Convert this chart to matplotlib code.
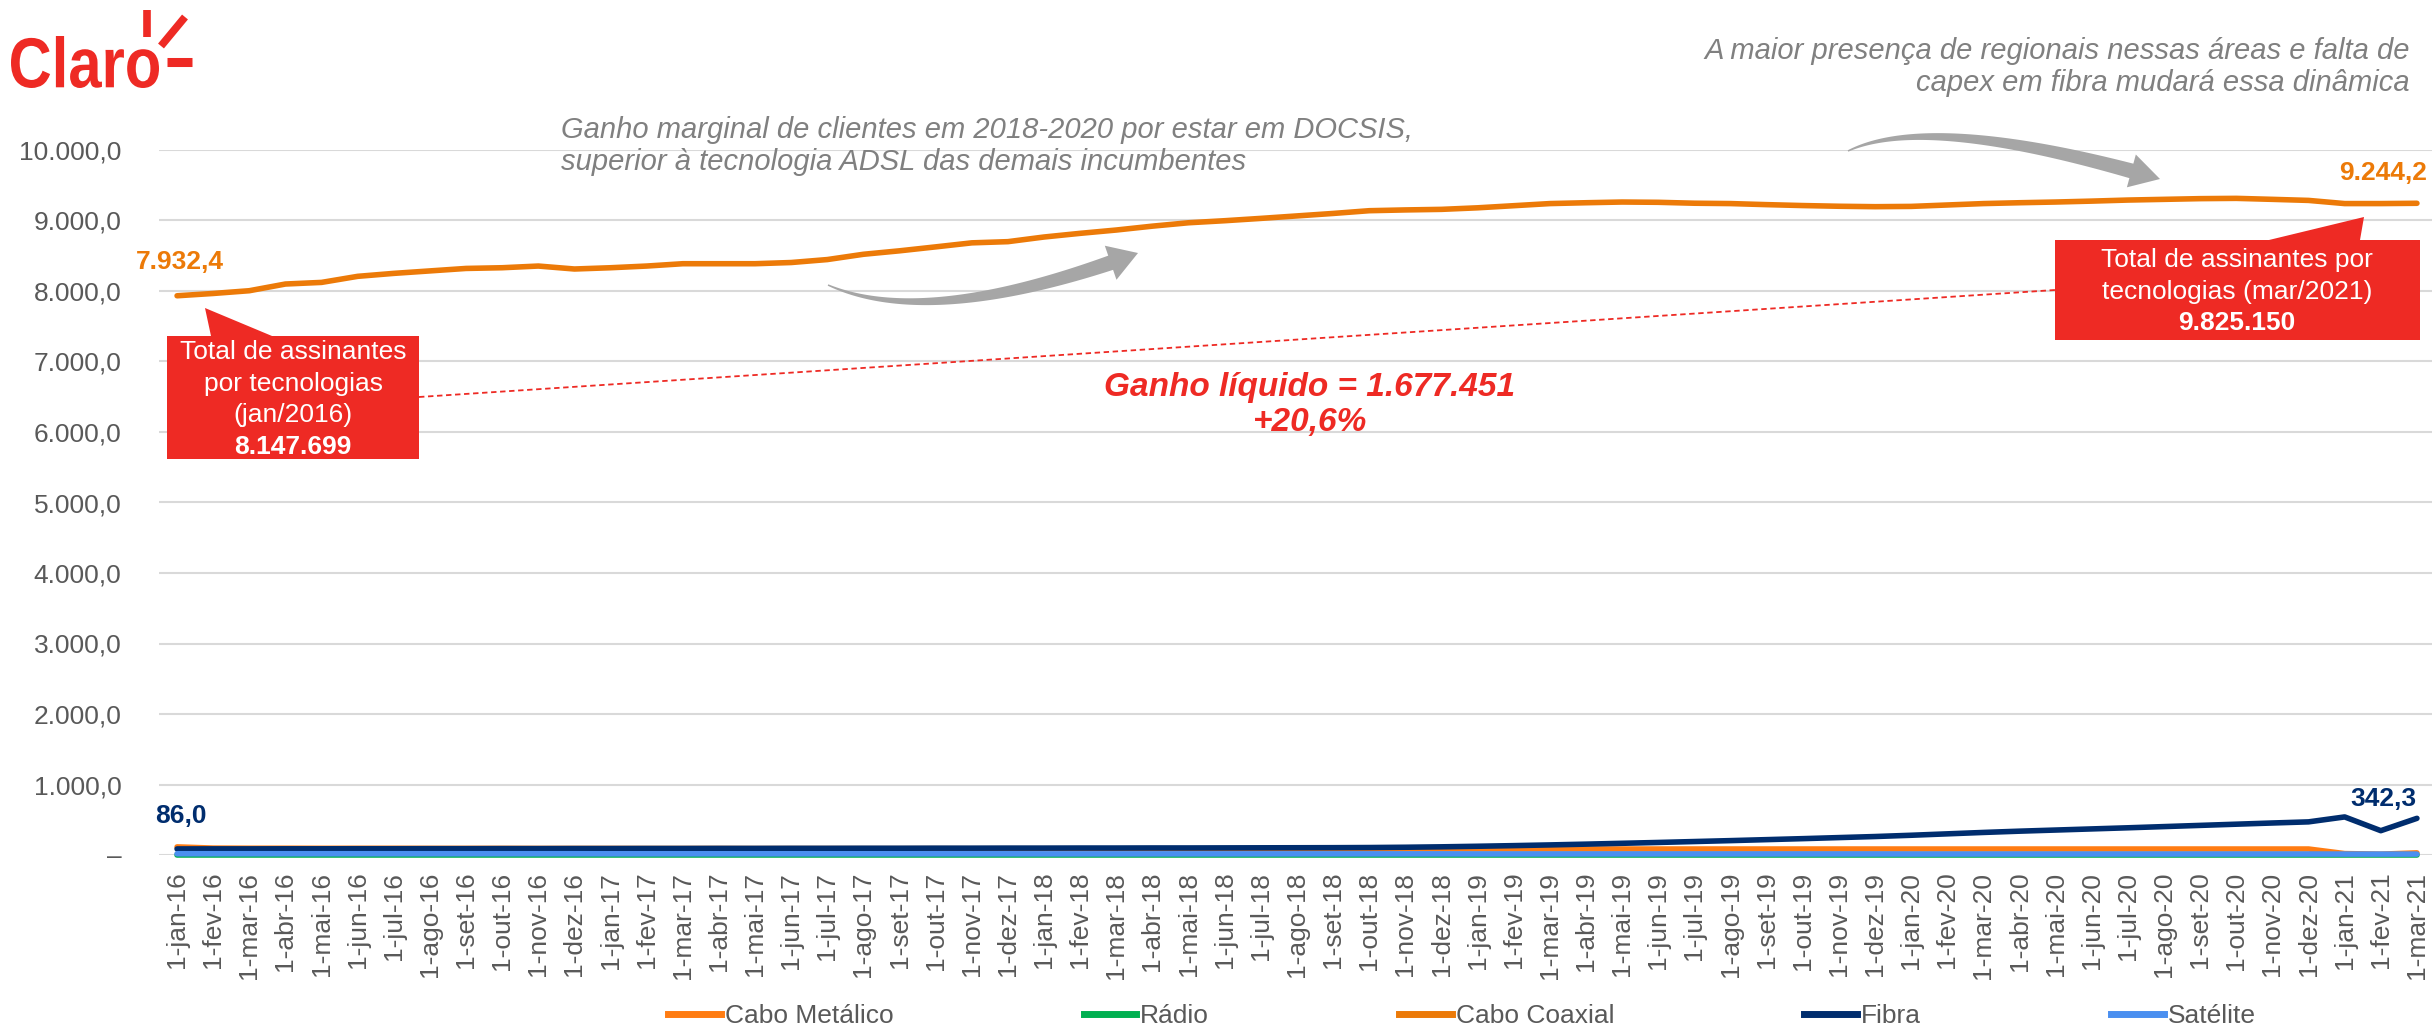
import numpy as np
import matplotlib
matplotlib.use('Agg')
import matplotlib.pyplot as plt
from matplotlib.patches import Polygon, PathPatch
from matplotlib.lines import Line2D
from matplotlib.textpath import TextPath
from matplotlib.font_manager import FontProperties
from matplotlib.transforms import Affine2D
from matplotlib.ticker import FuncFormatter

plt.rcParams['font.family'] = ['Liberation Sans', 'DejaVu Sans']

W, H = 2432, 1031

# --- dados (milhares de assinantes) ---
meses = ['jan', 'fev', 'mar', 'abr', 'mai', 'jun', 'jul', 'ago', 'set', 'out', 'nov', 'dez']
anos = ['16', '17', '18', '19', '20', '21']
datas = [f'1-{m}-{a}' for a in anos for m in meses][:63]

cabo_metalico = [115, 98, 96, 96, 95, 95, 95, 94, 94, 94, 93, 93,
                 93, 92, 92, 92, 91, 91, 91, 90, 90, 90, 89, 89,
                 89, 88, 88, 88, 88, 87, 87, 87, 87, 86, 86, 86,
                 86, 85, 85, 85, 85, 85, 85, 85, 85, 85, 85, 85,
                 85, 85, 85, 85, 85, 85, 85, 85, 85, 85, 85, 85,
                 20, 12, 30]
radio = [4, 4, 4, 4, 4, 4, 4, 4, 4, 4, 4, 4,
         4, 4, 4, 4, 4, 4, 4, 4, 4, 4, 4, 4,
         4, 4, 4, 4, 4, 4, 4, 4, 4, 4, 4, 4,
         4, 4, 4, 4, 4, 4, 4, 4, 4, 4, 4, 4,
         4, 4, 4, 4, 4, 4, 4, 4, 4, 4, 4, 4,
         4, 4, 4]
cabo_coaxial = [7932.4, 7965, 8004, 8099, 8122, 8208, 8250, 8285, 8320, 8330, 8354, 8312,
                8330, 8354, 8387, 8387, 8387, 8404, 8446, 8521, 8570, 8626, 8683, 8700,
                8766, 8818, 8865, 8920, 8968, 8997, 9030, 9065, 9100, 9139, 9150, 9158,
                9180, 9210, 9240, 9252, 9262, 9258, 9245, 9240, 9225, 9212, 9202, 9196,
                9200, 9220, 9240, 9252, 9262, 9275, 9290, 9300, 9310, 9314, 9300, 9285,
                9240, 9240, 9244.2]
fibra = [86, 87, 87, 88, 88, 89, 89, 90, 90, 91, 91, 92,
         92, 93, 93, 94, 94, 95, 95, 96, 96, 97, 97, 98,
         98, 99, 99, 100, 100, 101, 102, 103, 104, 106, 110, 116,
         124, 133, 143, 154, 166, 178, 191, 204, 218, 232, 247, 262,
         280, 300, 320, 338, 354, 370, 386, 403, 420, 437, 454, 470,
         540, 345, 520]
satelite = [18, 18, 18, 18, 18, 18, 18, 18, 18, 18, 18, 18,
            17, 17, 17, 17, 17, 17, 17, 17, 17, 17, 17, 17,
            16, 16, 16, 16, 16, 16, 16, 16, 16, 16, 16, 16,
            15, 15, 15, 15, 15, 15, 15, 15, 15, 15, 15, 15,
            14, 14, 14, 14, 14, 14, 14, 14, 14, 14, 14, 14,
            13, 13, 13]

series = [('Cabo Metálico', cabo_metalico, '#FF7C12'),
          ('Rádio', radio, '#00B050'),
          ('Cabo Coaxial', cabo_coaxial, '#EC7A08'),
          ('Fibra', fibra, '#002D6E'),
          ('Satélite', satelite, '#4A8FF0')]

VERMELHO = '#EE2A24'
CINZA = '#595959'


def fx(x):
    return x / W


def fy(y):
    return 1 - y / H


fig = plt.figure(figsize=(W / 100, H / 100), dpi=100)
ax = fig.add_axes([fx(159), fy(855), 2276 / W, 705 / H])

x = np.arange(len(datas))
for nome, vals, cor in series:
    ax.plot(x, vals, color=cor, lw=4, label=nome, clip_on=False,
            solid_capstyle='round', solid_joinstyle='round')

ax.set_xlim(-0.5, len(datas) - 0.5)
ax.set_ylim(0, 10000)
ax.set_yticks(np.arange(0, 10001, 1000))


def fmt(v, pos):
    if v == 0:
        return '–'
    return f'{v:,.1f}'.replace(',', 'X').replace('.', ',').replace('X', '.')


ax.yaxis.set_major_formatter(FuncFormatter(fmt))
ax.set_xticks(x)
ax.set_xticklabels(datas, rotation=90)
ax.tick_params(axis='y', length=0, pad=27, labelsize=19, labelcolor=CINZA)
ax.tick_params(axis='x', length=0, pad=12, labelsize=19, labelcolor=CINZA)
for s in ax.spines.values():
    s.set_visible(False)
ax.yaxis.grid(True, color='#D9D9D9', lw=1.5)
ax.set_axisbelow(True)

# rótulos de dados
ax.annotate('7.932,4', (0, cabo_coaxial[0]), xytext=(2, 24), textcoords='offset points',
            ha='center', va='center', fontsize=19, fontweight='bold', color='#EC7A08')
ax.annotate('9.244,2', (62, cabo_coaxial[-1]), xytext=(7, 22), textcoords='offset points',
            ha='right', va='center', fontsize=19, fontweight='bold', color='#EC7A08')
ax.annotate('86,0', (0, fibra[0]), xytext=(3, 24), textcoords='offset points',
            ha='center', va='center', fontsize=19, fontweight='bold', color='#002D6E')
ax.annotate('342,3', (62, fibra[-1]), xytext=(-24, 14), textcoords='offset points',
            ha='center', va='center', fontsize=19, fontweight='bold', color='#002D6E')

# linha tracejada entre as caixas
fig.add_artist(Line2D([fx(419), fx(2055)], [fy(397), fy(290)], color=VERMELHO,
                      lw=1.3, ls=(0, (3, 2)), zorder=3))

# caixas vermelhas
caixa1 = [(167, 336), (211, 336), (205, 308), (272, 336), (419, 336), (419, 459), (167, 459)]
caixa2 = [(2055, 240), (2269, 240), (2364, 217), (2360, 240), (2420, 240), (2420, 340), (2055, 340)]
for c in (caixa1, caixa2):
    fig.add_artist(Polygon([(fx(a), fy(b)) for a, b in c], closed=True,
                           transform=fig.transFigure, fc=VERMELHO, ec='none', zorder=4))

for txt, yy, wt in [('Total de assinantes', 352, 'normal'), ('por tecnologias', 384, 'normal'),
                    ('(jan/2016)', 415, 'normal'), ('8.147.699', 447, 'bold')]:
    fig.text(fx(293), fy(yy), txt, ha='center', va='center', fontsize=19,
             color='white', fontweight=wt, zorder=5)
for txt, yy, wt in [('Total de assinantes por', 260, 'normal'),
                    ('tecnologias (mar/2021)', 292, 'normal'), ('9.825.150', 323, 'bold')]:
    fig.text(fx(2237), fy(yy), txt, ha='center', va='center', fontsize=19,
             color='white', fontweight=wt, zorder=5)

fig.text(fx(1310), fy(405), 'Ganho líquido = 1.677.451\n+20,6%', ha='center', va='center',
         fontsize=24, fontweight='bold', fontstyle='italic', color=VERMELHO, linespacing=1.2)

# comentários em cinza
fig.text(fx(561), fy(146), 'Ganho marginal de clientes em 2018-2020 por estar em DOCSIS,\n'
         'superior à tecnologia ADSL das demais incumbentes', ha='left', va='center',
         fontsize=21, fontstyle='italic', color='#808080', linespacing=1.15)
fig.text(fx(2410), fy(67), 'A maior presença de regionais nessas áreas e falta de\n'
         'capex em fibra mudará essa dinâmica', ha='right', va='center',
         fontsize=21, fontstyle='italic', color='#808080', linespacing=1.15)


# setas curvas
def seta(p0, pc, p1, w0, w1, head_len, head_w):
    t = np.linspace(0, 1, 300)[:, None]
    p0, pc, p1 = (np.array(p, float) for p in (p0, pc, p1))
    pts = (1 - t) ** 2 * p0 + 2 * (1 - t) * t * pc + t ** 2 * p1
    d = np.hypot(*(pts - p1).T)
    k = int(np.argmax(d < head_len))
    body = pts[:k + 1]
    tang = np.gradient(body, axis=0)
    tang /= np.hypot(*tang.T)[:, None]
    nrm = np.column_stack([-tang[:, 1], tang[:, 0]])
    w = np.linspace(w0, w1, len(body))[:, None] / 2
    left, right = body + nrm * w, body - nrm * w
    hl = body[-1] + nrm[-1] * head_w / 2
    hr = body[-1] - nrm[-1] * head_w / 2
    poly = np.vstack([left, hl, p1, hr, right[::-1]])
    fig.add_artist(Polygon(np.column_stack([poly[:, 0] / W, 1 - poly[:, 1] / H]),
                           closed=True, transform=fig.transFigure,
                           fc='#A6A6A6', ec='none', zorder=3))


seta((828, 285), (930, 330), (1138, 253), 1.5, 15, 30, 36)
seta((1848, 151), (1930, 112), (2160, 179), 1.5, 15, 30, 34)

# logotipo
tp = TextPath((0, 0), 'Claro', size=100,
              prop=FontProperties(family='Liberation Sans', weight='bold'))
ext = tp.get_extents()
sx, sy = 148 / ext.width, 52 / ext.height
tr = Affine2D().scale(sx, sy).translate(11 - ext.x0 * sx, (H - 88) - ext.y0 * sy)
fig.add_artist(PathPatch(tp, transform=tr, fc=VERMELHO, ec='none'))
for (xa, ya), (xb, yb), lw in [((147, 10), (147, 37), 5.5),
                               ((161, 46), (185, 17), 5.5),
                               ((167, 62), (192, 62), 6.5)]:
    fig.add_artist(Line2D([fx(xa), fx(xb)], [fy(ya), fy(yb)], color=VERMELHO,
                          lw=lw, solid_capstyle='butt'))

# legenda
handles = [Line2D([], [], color=c, lw=5) for _, _, c in series]
fig.legend(handles, [n for n, _, _ in series], loc='center', ncol=5,
           bbox_to_anchor=(fx(1462), fy(1016)), frameon=False, fontsize=19,
           labelcolor=CINZA, handlelength=2.0, handletextpad=0.15,
           columnspacing=7.2, borderpad=0, borderaxespad=0)

fig.savefig('out.png', dpi=100)
